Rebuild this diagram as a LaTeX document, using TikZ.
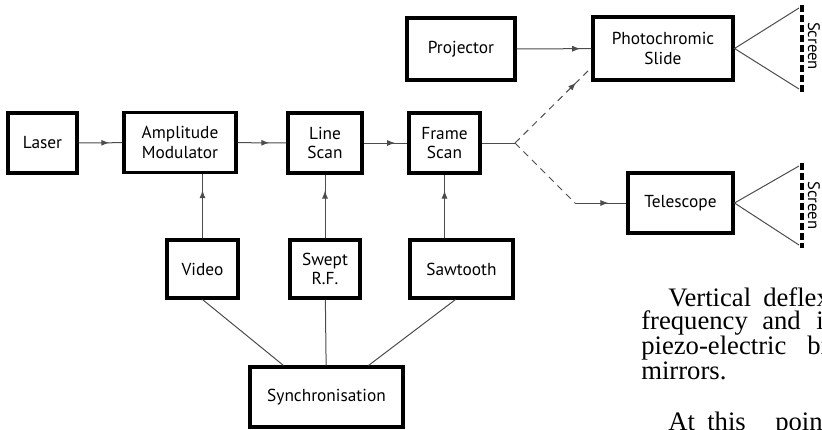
\documentclass[tikz,border=0pt]{standalone}
\usepackage{fontspec}
\setsansfont{PT Sans}
\setmainfont{Liberation Serif}
\usetikzlibrary{arrows.meta,calc,decorations.markings}

\begin{document}
\begin{tikzpicture}[x=0.75pt,y=-0.75pt]
\tikzset{
  blockbox/.style={rectangle,draw=black,line width=2.3pt,minimum height=45pt,inner sep=1pt,align=center,font=\sffamily\fontsize{13}{14.5}\selectfont},
  flowedge/.style={draw=black!70,line width=0.75pt},
  dashedge/.style={flowedge,dashed,dash pattern=on 5pt off 4pt},
  midarrow/.style={postaction={decorate},decoration={markings,mark=at position #1 with {\arrow{Latex[length=6pt,width=4.5pt]}}}},
  screenline/.style={draw=black,line width=2.6pt,dash pattern=on 5pt off 2.5pt},
  screenlabel/.style={rotate=-90,font=\sffamily\fontsize{12.5}{14}\selectfont},
  bodytext/.style={anchor=north west,inner sep=0pt,align=left,font=\fontsize{20}{17.25}\selectfont}
}
\clip (0,0) rectangle (822,429);
% blocks
\node[blockbox,minimum width=51.75pt] (n_laser) at (42.5,143) {Laser};
\node[blockbox,minimum width=84pt] (n_amp) at (180,142.5) {Amplitude\\Modulator};
\node[blockbox,minimum width=55.5pt] (n_line) at (325,143) {Line\\Scan};
\node[blockbox,minimum width=53.25pt] (n_frame) at (444.5,143) {Frame\\Scan};
\node[blockbox,minimum width=81pt,minimum height=46.5pt] (n_proj) at (461,49) {Projector};
\node[blockbox,minimum width=105pt,minimum height=47.25pt] (n_slide) at (663,48.5) {Photochromic\\Slide};
\node[blockbox,minimum width=78.75pt] (n_tele) at (680.5,203) {Telescope};
\node[blockbox,minimum width=53.25pt,minimum height=43.5pt] (n_video) at (202.5,269) {Video};
\node[blockbox,minimum width=52.5pt,minimum height=43.5pt] (n_swept) at (325,269) {Swept\\R.F.};
\node[blockbox,minimum width=77.25pt,minimum height=43.5pt] (n_saw) at (461.5,269) {Sawtooth};
\node[blockbox,minimum width=114.75pt] (n_sync) at (326.5,397) {Synchronisation};
% screens
\coordinate (c_scr1a) at (802,5);
\coordinate (c_scr1b) at (802,92);
\coordinate (c_scr2a) at (802,163);
\coordinate (c_scr2b) at (802,248);
\draw[screenline] (c_scr1a) -- (c_scr1b);
\draw[screenline] (c_scr2a) -- (c_scr2b);
\node[screenlabel] (n_scr1) at (814,46) {Screen};
\node[screenlabel] (n_scr2) at (814,205.5) {Screen};
\draw[flowedge] ($(c_scr1a)+(-3,3)$) -- (n_slide.east) -- ($(c_scr1b)+(-3,-3)$);
\draw[flowedge] ($(c_scr2a)+(-3,3)$) -- (n_tele.east) -- ($(c_scr2b)+(-3,-3)$);
% main chain
\draw[flowedge,midarrow=0.7] (n_laser) -- (n_amp);
\draw[flowedge,midarrow=0.65] (n_amp) -- (n_line);
\draw[flowedge,midarrow=0.72] (n_line) -- (n_frame);
\draw[flowedge,midarrow=0.85] (n_proj) -- (n_slide);
% split to slide and telescope
\coordinate (c_fork) at (515,143);
\coordinate (c_bend) at (575,203);
\draw[flowedge] (n_frame) -- (c_fork);
\draw[dashedge,midarrow=0.8] (c_fork) -- ($(n_slide.west)+(0,19)$);
\draw[dashedge] (c_fork) -- (c_bend);
\draw[flowedge,midarrow=0.65] (c_bend) -- (n_tele);
% signal sources
\draw[flowedge,midarrow=0.75] (n_video.north) -- (n_video.north |- n_amp.south);
\draw[flowedge,midarrow=0.75] (n_swept) -- (n_line);
\draw[flowedge,midarrow=0.75] (n_frame.south |- n_saw.north) -- (n_frame.south);
\draw[flowedge] (n_video.south) -- ($(n_sync.north)+(-43,0)$);
\draw[flowedge] (n_swept) -- (n_sync);
\draw[flowedge] ($(n_saw.south)+(-6,0)$) -- ($(n_sync.north)+(42,0)$);
% running text beside the figure (cut at the page edge)
\node[bodytext] (t_body) at (641,287) {%
  \hspace*{20.25pt}\makebox[71.25pt][l]{Vertical}deflex\\
  \makebox[90.75pt][l]{frequency}\makebox[40.5pt][l]{and}i\\
  \makebox[124.5pt][l]{piezo-electric}bi\\
  mirrors.\\[21pt]
  \hspace*{20.25pt}\makebox[29.25pt][l]{At}\makebox[51pt][l]{this}point};
\end{tikzpicture}
\end{document}
